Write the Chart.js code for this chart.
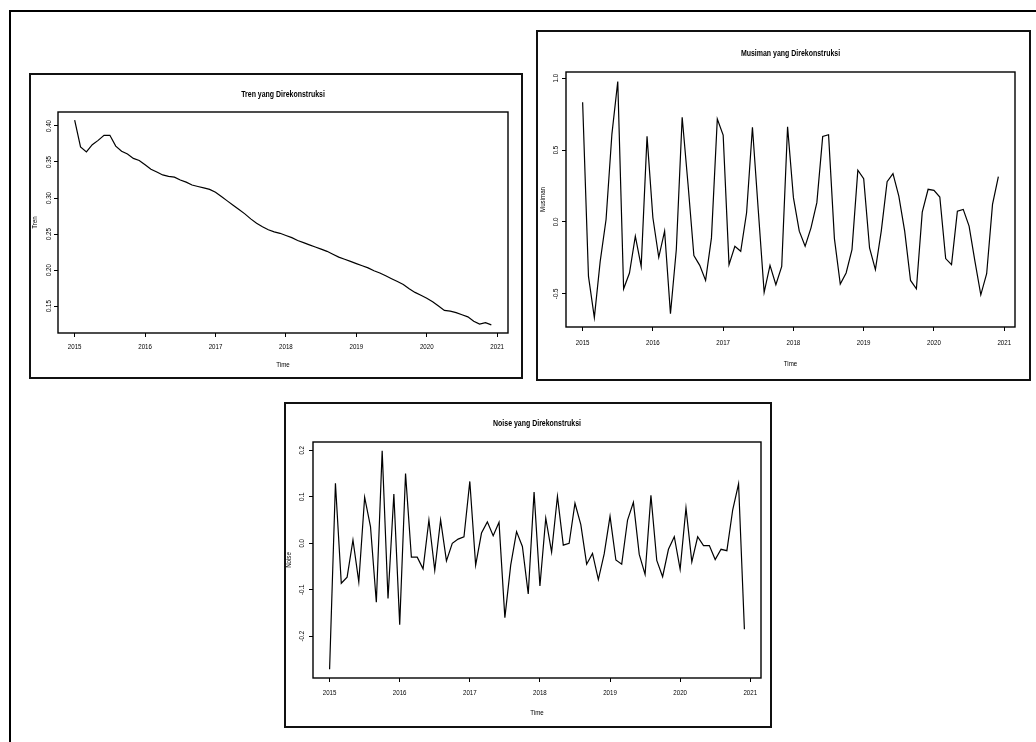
<!DOCTYPE html>
<html>
<head>
<meta charset="utf-8">
<script src="https://cdn.jsdelivr.net/npm/chart.js@4.4.0/dist/chart.umd.min.js"></script>
<style>
body { margin: 0; background: #fff; width: 1036px; height: 742px; overflow: hidden; position: relative; }
#frame { position: absolute; left: 9px; top: 10px; right: 0; bottom: 0; border-top: 2px solid #000; border-left: 2px solid #000; }
.panel { position: absolute; border: 2px solid #111; box-sizing: border-box; background: #fff; }
.panel canvas { position: absolute; left: 0; top: 0; }
</style>
</head>
<body>
<div id="frame"></div>
<div class="panel" style="left:29px;top:73px;width:494px;height:306px"><canvas id="trendChart" width="490" height="302"></canvas></div>
<div class="panel" style="left:536px;top:30px;width:495px;height:351px"><canvas id="seasonChart" width="491" height="347"></canvas></div>
<div class="panel" style="left:284px;top:402px;width:488px;height:326px"><canvas id="noiseChart" width="484" height="322"></canvas></div>
<script>
// monthly series, Jan 2015 .. Dec 2020
let startYear = 2015;
let freq = 12;
let yearTicks = [2015, 2016, 2017, 2018, 2019, 2020, 2021];

let trendValues = [
    0.408, 0.371, 0.364, 0.374, 0.380, 0.387, 0.387, 0.372, 0.365, 0.361, 0.355, 0.352,
    0.346, 0.340, 0.336, 0.332, 0.330, 0.329, 0.325, 0.322, 0.318, 0.316, 0.314, 0.312,
    0.308, 0.302, 0.296, 0.290, 0.284, 0.278, 0.271, 0.265, 0.260, 0.256, 0.253, 0.251,
    0.248, 0.245, 0.241, 0.238, 0.235, 0.232, 0.229, 0.226, 0.222, 0.218, 0.215, 0.212,
    0.209, 0.206, 0.203, 0.199, 0.196, 0.192, 0.188, 0.184, 0.180, 0.174, 0.169, 0.165,
    0.161, 0.156, 0.150, 0.144, 0.143, 0.141, 0.138, 0.135, 0.129, 0.125, 0.127, 0.124
];

let seasonalValues = [
    0.832, -0.379, -0.665, -0.274, 0.017, 0.611, 0.977, -0.465, -0.355, -0.099, -0.309, 0.595,
    0.029, -0.246, -0.064, -0.639, -0.192, 0.728, 0.262, -0.234, -0.302, -0.407, -0.111, 0.716,
    0.604, -0.297, -0.169, -0.204, 0.064, 0.658, 0.080, -0.490, -0.302, -0.437, -0.309, 0.662,
    0.169, -0.064, -0.169, -0.041, 0.134, 0.595, 0.606, -0.116, -0.432, -0.355, -0.192, 0.360,
    0.301, -0.181, -0.332, -0.064, 0.280, 0.336, 0.180, -0.064, -0.407, -0.465, 0.068, 0.227,
    0.220, 0.173, -0.255, -0.297, 0.075, 0.087, -0.029, -0.274, -0.507, -0.360, 0.122, 0.315
];

let noiseValues = [
    -0.271, 0.129, -0.086, -0.073, 0.007, -0.083, 0.099, 0.036, -0.127, 0.199, -0.119, 0.106,
    -0.175, 0.150, -0.030, -0.030, -0.055, 0.050, -0.058, 0.050, -0.038, 0.000, 0.009, 0.014,
    0.133, -0.047, 0.022, 0.046, 0.016, 0.045, -0.160, -0.047, 0.025, -0.007, -0.109, 0.110,
    -0.092, 0.054, -0.019, 0.101, -0.004, 0.000, 0.086, 0.040, -0.045, -0.022, -0.078, -0.023,
    0.058, -0.036, -0.045, 0.050, 0.088, -0.024, -0.067, 0.103, -0.037, -0.072, -0.013, 0.014,
    -0.056, 0.076, -0.040, 0.014, -0.005, -0.005, -0.035, -0.013, -0.016, 0.072, 0.128, -0.185
];

let trendTicks = [0.15, 0.20, 0.25, 0.30, 0.35, 0.40];
let trendTickLabels = ["0.15", "0.20", "0.25", "0.30", "0.35", "0.40"];
let seasonalTicks = [-0.5, 0.0, 0.5, 1.0];
let seasonalTickLabels = ["-0.5", "0.0", "0.5", "1.0"];
let noiseTicks = [-0.2, -0.1, 0.0, 0.1, 0.2];
let noiseTickLabels = ["-0.2", "-0.1", "0.0", "0.1", "0.2"];

const FONT = "'Liberation Sans', Arial, Helvetica, sans-serif";
const SQUEEZE = 0.82;

function drawText(ctx, text, x, y, rot, font){
    ctx.save();
    ctx.translate(x, y);
    ctx.rotate(rot);
    ctx.scale(SQUEEZE, 1);
    ctx.font = font;
    ctx.textAlign = 'center';
    ctx.textBaseline = 'middle';
    ctx.fillText(text, 0, 0);
    ctx.restore();
}

// R style box, titles and rotated y labels
const rStyle = {
    id: 'rStyle',
    afterDraw(chart, args, o){
        const ctx = chart.ctx;
        const a = chart.chartArea;
        ctx.save();
        ctx.strokeStyle = '#000';
        ctx.lineWidth = 1.4;
        ctx.strokeRect(a.left, a.top, a.right - a.left, a.bottom - a.top);
        ctx.fillStyle = '#000';
        const cx = (a.left + a.right) / 2;
        const cy = (a.top + a.bottom) / 2;
        drawText(ctx, o.title, cx, a.top - o.gaps.title, 0, "bold 8.5px " + FONT);
        drawText(ctx, "Time", cx, a.bottom + o.gaps.xlab, 0, "7.5px " + FONT);
        drawText(ctx, o.ylab, a.left - o.gaps.ylab, cy, -Math.PI / 2, "7.5px " + FONT);
        const xs = chart.scales.x;
        yearTicks.forEach(v => {
            drawText(ctx, String(v), xs.getPixelForValue(v), a.bottom + o.gaps.xtick, 0, "7.5px " + FONT);
        });
        const ys = chart.scales.y;
        o.yTicks.forEach((v, i) => {
            drawText(ctx, o.yLabels[i], a.left - o.gaps.ytick, ys.getPixelForValue(v), -Math.PI / 2, "7.5px " + FONT);
        });
        ctx.restore();
    }
};

function makeChart(id, values, title, ylab, yTicks, yLabels, box, gaps){
    const pts = values.map((v, i) => ({ x: startYear + i / freq, y: v }));
    const xSpan = (values.length - 1) / freq;
    const xMin = startYear - 0.04 * xSpan;
    const xMax = startYear + xSpan + 0.04 * xSpan;
    const lo = Math.min(...values), hi = Math.max(...values);
    const yMin = lo - 0.04 * (hi - lo);
    const yMax = hi + 0.04 * (hi - lo);

    const tickGrid = {
        display: true,
        drawOnChartArea: false,
        drawTicks: true,
        tickLength: 4,
        color: '#000',
        lineWidth: 1
    };

    return new Chart(document.getElementById(id).getContext('2d'), {
        type: 'line',
        data: {
            datasets: [{
                data: pts,
                borderColor: '#000',
                borderWidth: 1.2,
                pointRadius: 0,
                tension: 0,
                fill: false
            }]
        },
        options: {
            responsive: false,
            animation: false,
            layout: { padding: { top: box.top, right: box.right, left: 0, bottom: 0 } },
            plugins: {
                legend: { display: false },
                tooltip: { enabled: false },
                rStyle: { title: title, ylab: ylab, yTicks: yTicks, yLabels: yLabels, gaps: gaps }
            },
            scales: {
                x: {
                    type: 'linear',
                    min: xMin,
                    max: xMax,
                    afterBuildTicks: s => { s.ticks = yearTicks.map(v => ({ value: v })); },
                    afterFit: s => { s.height = box.bottom; },
                    ticks: { display: false },
                    grid: tickGrid,
                    border: { display: false }
                },
                y: {
                    type: 'linear',
                    min: yMin,
                    max: yMax,
                    afterBuildTicks: s => { s.ticks = yTicks.map(v => ({ value: v })); },
                    afterFit: s => { s.width = box.left; },
                    ticks: { display: false },
                    grid: tickGrid,
                    border: { display: false }
                }
            }
        },
        plugins: [rStyle]
    });
}

makeChart('trendChart', trendValues, "Tren yang Direkonstruksi", "Tren",
    trendTicks, trendTickLabels,
    { left: 27, top: 37, right: 13, bottom: 44 },
    { title: 17.7, xtick: 13.7, xlab: 32, ytick: 9, ylab: 22.7 });

makeChart('seasonChart', seasonalValues, "Musiman yang Direkonstruksi", "Musiman",
    seasonalTicks, seasonalTickLabels,
    { left: 28, top: 40, right: 14, bottom: 52 },
    { title: 18.6, xtick: 16, xlab: 36.7, ytick: 10, ylab: 23.4 });

makeChart('noiseChart', noiseValues, "Noise yang Direkonstruksi", "Noise",
    noiseTicks, noiseTickLabels,
    { left: 27, top: 38, right: 9, bottom: 48 },
    { title: 18.3, xtick: 14.6, xlab: 34.6, ytick: 10.7, ylab: 24 });
</script>
</body>
</html>
